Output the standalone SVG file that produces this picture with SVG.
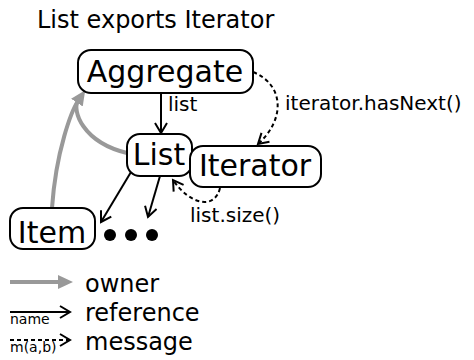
<svg xmlns="http://www.w3.org/2000/svg" width="474" height="360" viewBox="0 0 474 360">
<style>
text{font-family:"DejaVu Sans",sans-serif;fill:#000}
.node rect{fill:#fff;stroke:#000;stroke-width:2}
.nl{font-size:30px;text-anchor:middle}
.el{font-size:20px}
.lg{font-size:24px}
.sm{font-size:14px}
.ref{fill:none;stroke:#000;stroke-width:2;marker-end:url(#refHead)}
.msg{fill:none;stroke:#000;stroke-width:2;stroke-dasharray:4 3;marker-end:url(#refHead)}
.own{fill:none;stroke:#999;stroke-width:4}
</style>
<defs>
<marker id="refHead" markerWidth="14" markerHeight="14" refX="11" refY="7" orient="auto" markerUnits="userSpaceOnUse">
<path d="M1,1 L11,7 L1,13" fill="none" stroke="#000" stroke-width="2"/>
</marker>
<marker id="ownHead" markerWidth="18" markerHeight="16" refX="2" refY="8" orient="auto" markerUnits="userSpaceOnUse">
<path d="M0,1 L15,8 L0,15 Z" fill="#999"/>
</marker>
</defs>
<text x="37" y="28" class="lg">List exports Iterator</text>
<g id="connectors">
<path class="own" d="M52,208 C56,150 72,110 78,101" marker-end="url(#ownHead)"/>
<path class="own" d="M127,153 C82,142 72,110 78,101"/>
<path class="ref" d="M161,94 L161,133"/>
<path class="ref" d="M131,172 L101,222"/>
<path class="ref" d="M160,176 L148,217"/>
<path class="msg" d="M253,72 C285,85 285,120 258,144"/>
<path class="msg" d="M220,188 C215,210 190,205 173,180"/>
<text x="168" y="111" class="el">list</text>
<text x="285" y="110" class="el">iterator.hasNext()</text>
<text x="190" y="222" class="el">list.size()</text>
</g>
<g id="Aggregate" class="node"><rect x="78" y="50" width="175" height="43" rx="13"/><text x="165" y="82" class="nl">Aggregate</text></g>
<g id="List" class="node"><rect x="127" y="134" width="65" height="42" rx="13"/><text x="159" y="165" class="nl">List</text></g>
<g id="Iterator" class="node"><rect x="190" y="146" width="131" height="41" rx="13"/><text x="255" y="176" class="nl">Iterator</text></g>
<g id="Item" class="node"><rect x="10" y="208" width="85" height="41" rx="13"/><text x="52" y="243" class="nl">Item</text></g>
<g id="dots">
<circle cx="110" cy="235" r="6"/>
<circle cx="131" cy="235" r="6"/>
<circle cx="152" cy="235" r="6"/>
</g>
<g id="legend">
<path class="own" d="M10,282 L60,282" marker-end="url(#ownHead)"/>
<text x="85" y="292" class="lg">owner</text>
<path class="ref" d="M10,312 L70,312"/>
<text x="10" y="324" class="sm">name</text>
<text x="85" y="321" class="lg">reference</text>
<path class="msg" d="M10,340 L70,340"/>
<text x="10" y="352" class="sm">m(a,b)</text>
<text x="85" y="350" class="lg">message</text>
</g>
</svg>
